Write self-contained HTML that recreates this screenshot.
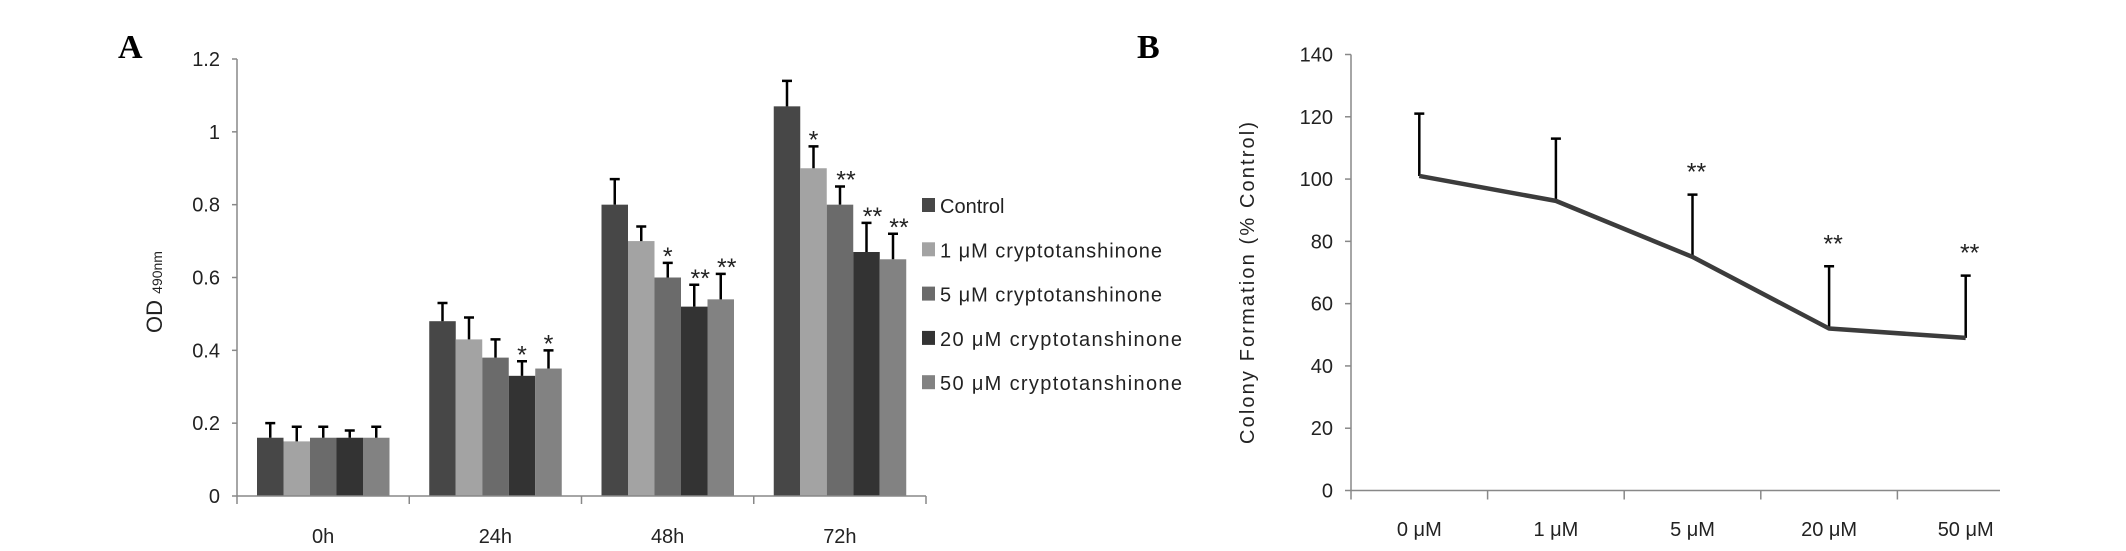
<!DOCTYPE html>
<html><head><meta charset="utf-8"><style>
body{margin:0;background:#fff;}
svg{display:block;font-family:"Liberation Sans",sans-serif;}
</style></head><body>
<svg id="fig" width="2126" height="551" viewBox="0 0 2126 551">
<text x="118" y="58" font-family="Liberation Serif" font-weight="bold" font-size="34">A</text>
<text x="1137" y="58" font-family="Liberation Serif" font-weight="bold" font-size="34">B</text>
<g id="ga"></g>
<g id="gb"></g>
</svg>
<script>
// Chart A data
const catsA = ["0h","24h","48h","72h"];
const seriesNames = ["Control","1 \u03bcM cryptotanshinone","5 \u03bcM cryptotanshinone","20 \u03bcM cryptotanshinone","50 \u03bcM cryptotanshinone"];
const valsControl = [0.16,0.48,0.80,1.07];
const vals1 = [0.15,0.43,0.70,0.90];
const vals5 = [0.16,0.38,0.60,0.80];
const vals20 = [0.16,0.33,0.52,0.67];
const vals50 = [0.16,0.35,0.54,0.65];
const errControl = [0.04,0.05,0.07,0.07];
const err1 = [0.04,0.06,0.04,0.06];
const err5 = [0.03,0.05,0.04,0.05];
const err20 = [0.02,0.04,0.06,0.08];
const err50 = [0.03,0.05,0.07,0.07];
const starsControl = ["","","",""];
const stars1 = ["","","","*"];
const stars5 = ["","","*","**"];
const stars20 = ["","*","**","**"];
const stars50 = ["","*","**","**"];
const ticksA = ["0","0.2","0.4","0.6","0.8","1","1.2"];
// Chart B data
const catsB = ["0 \u03bcM","1 \u03bcM","5 \u03bcM","20 \u03bcM","50 \u03bcM"];
const valsB = [101,93,75,52,49];
const errB = [20,20,20,20,20];
const starsB = ["","","**","**","**"];
const ticksB = ["0","20","40","60","80","100","120","140"];

const NS="http://www.w3.org/2000/svg";
function mk(p,tag,attrs,txt){const e=document.createElementNS(NS,tag);for(const k in attrs)e.setAttribute(k,attrs[k]);if(txt!==undefined)e.textContent=txt;p.appendChild(e);return e;}

// ---- Chart A ----
const ga=document.getElementById('ga');
const ax0=237, ax1=926, ay0=496, ay1=59, amax=1.2;
const yA=v=>ay0-(v/amax)*(ay0-ay1);
const gw=(ax1-ax0)/catsA.length, bw=26.5;
const xA=(c,s)=>ax0+c*gw+20+s*bw;
const allVals=[valsControl,vals1,vals5,vals20,vals50];
const allErr=[errControl,err1,err5,err20,err50];
const allStars=[starsControl,stars1,stars5,stars20,stars50];
const colors=["#474747","#a3a3a3","#6b6b6b","#333333","#828282"];
let l=mk(ga,'line',{x1:ax0,y1:ay1,x2:ax0,y2:ay0,stroke:'#888','stroke-width':1.5});


ticksA.forEach(t=>{const y=yA(parseFloat(t));
 const tk=mk(ga,'line',{x1:ax0-5,y1:y,x2:ax0,y2:y,stroke:'#888','stroke-width':1.5});
 
 
 const tx=mk(ga,'text',{x:ax0-17,y:y+7,'text-anchor':'end','font-size':20,fill:'#222'},t);
 
 
});
catsA.forEach((c,i)=>{
 const tk=mk(ga,'line',{x1:ax0+i*gw,y1:ay0,x2:ax0+i*gw,y2:ay0+8,stroke:'#888','stroke-width':1.5});
 
 
 const tx=mk(ga,'text',{x:ax0+(i+0.5)*gw,y:543,'text-anchor':'middle','font-size':20,fill:'#222'},c);
 
 
});
const tkEnd=mk(ga,'line',{x1:ax1,y1:ay0,x2:ax1,y2:ay0+8,stroke:'#888','stroke-width':1.5});


allVals.forEach((arr,s)=>{arr.forEach((v,c)=>{
 const x=xA(c,s), y=yA(v), ye=yA(v+allErr[s][c]);
 const r=mk(ga,'rect',{x:x,y:y,width:bw,height:ay0-y,fill:colors[s]});
 
 
 const e=mk(ga,'path',{d:`M${x+bw/2},${y}V${ye}M${x+bw/2-5},${ye}H${x+bw/2+5}`,stroke:'#000','stroke-width':2.5,fill:'none'});
 
 
 if(allStars[s][c]){const st=mk(ga,'text',{x:x+bw/2+(allStars[s][c]==='**'?6:0),y:ye+2,'text-anchor':'middle','font-size':25,fill:'#222'},allStars[s][c]);
  
  }
});});
const xal=mk(ga,'line',{x1:ax0,y1:ay0,x2:ax1,y2:ay0,stroke:'#888','stroke-width':1.5});


const yt=mk(ga,'text',{transform:'translate(162,292) rotate(-90)','text-anchor':'middle','font-size':22,fill:'#222'});


yt.innerHTML='OD <tspan font-size="14">490nm</tspan>';
seriesNames.forEach((n,i)=>{const y=213+i*44.3;
 const sq=mk(ga,'rect',{x:922,y:y-15,width:13,height:14,fill:colors[i]});
 
 
 const at={x:940,y:y,'font-size':20,fill:'#222'};
 if(i>0) at.textLength=(i<3?222:242);
 const tx=mk(ga,'text',at,n);
 
 
});

// ---- Chart B ----
const gb=document.getElementById('gb');
const bx0=1351, bx1=2000, by0=490.5, by1=54.5, bmax=140, cw=136.6;
const yB=v=>by0-(v/bmax)*(by0-by1);
const xB=i=>bx0+(i+0.5)*cw;
const yl=mk(gb,'line',{x1:bx0,y1:by1,x2:bx0,y2:by0,stroke:'#888','stroke-width':1.5});


ticksB.forEach(t=>{const y=yB(parseFloat(t));
 const tk=mk(gb,'line',{x1:bx0-6,y1:y,x2:bx0,y2:y,stroke:'#888','stroke-width':1.5});
 
 
 const tx=mk(gb,'text',{x:bx0-18,y:y+7,'text-anchor':'end','font-size':20,fill:'#222'},t);
 
 
});
catsB.forEach((c,i)=>{
 const tk=mk(gb,'line',{x1:bx0+i*cw,y1:by0,x2:bx0+i*cw,y2:by0+9,stroke:'#888','stroke-width':1.5});
 
 
 const tx=mk(gb,'text',{x:xB(i),y:536,'text-anchor':'middle','font-size':20,fill:'#222'},c);
 
 
});
const xbl=mk(gb,'line',{x1:bx0,y1:by0,x2:bx1,y2:by0,stroke:'#888','stroke-width':1.5});


valsB.forEach((v,i)=>{const x=xB(i),y=yB(v),ye=yB(v+errB[i]);
 const e=mk(gb,'path',{d:`M${x},${y}V${ye}M${x-5},${ye}H${x+5}`,stroke:'#000','stroke-width':2.5,fill:'none'});
 
 
 if(starsB[i]){const st=mk(gb,'text',{x:x+4,y:ye-14,'text-anchor':'middle','font-size':25,fill:'#222'},starsB[i]);
  
  }
});
const ln=mk(gb,'polyline',{points:valsB.map((v,i)=>xB(i)+','+yB(v)).join(' '),fill:'none',stroke:'#3c3c3c','stroke-width':4.5,'stroke-linejoin':'round'});


const ytb=mk(gb,'text',{transform:'translate(1254,283) rotate(-90)','text-anchor':'middle','font-size':20,fill:'#222',textLength:322},'Colony Formation (% Control)');


</script>
</body></html>
